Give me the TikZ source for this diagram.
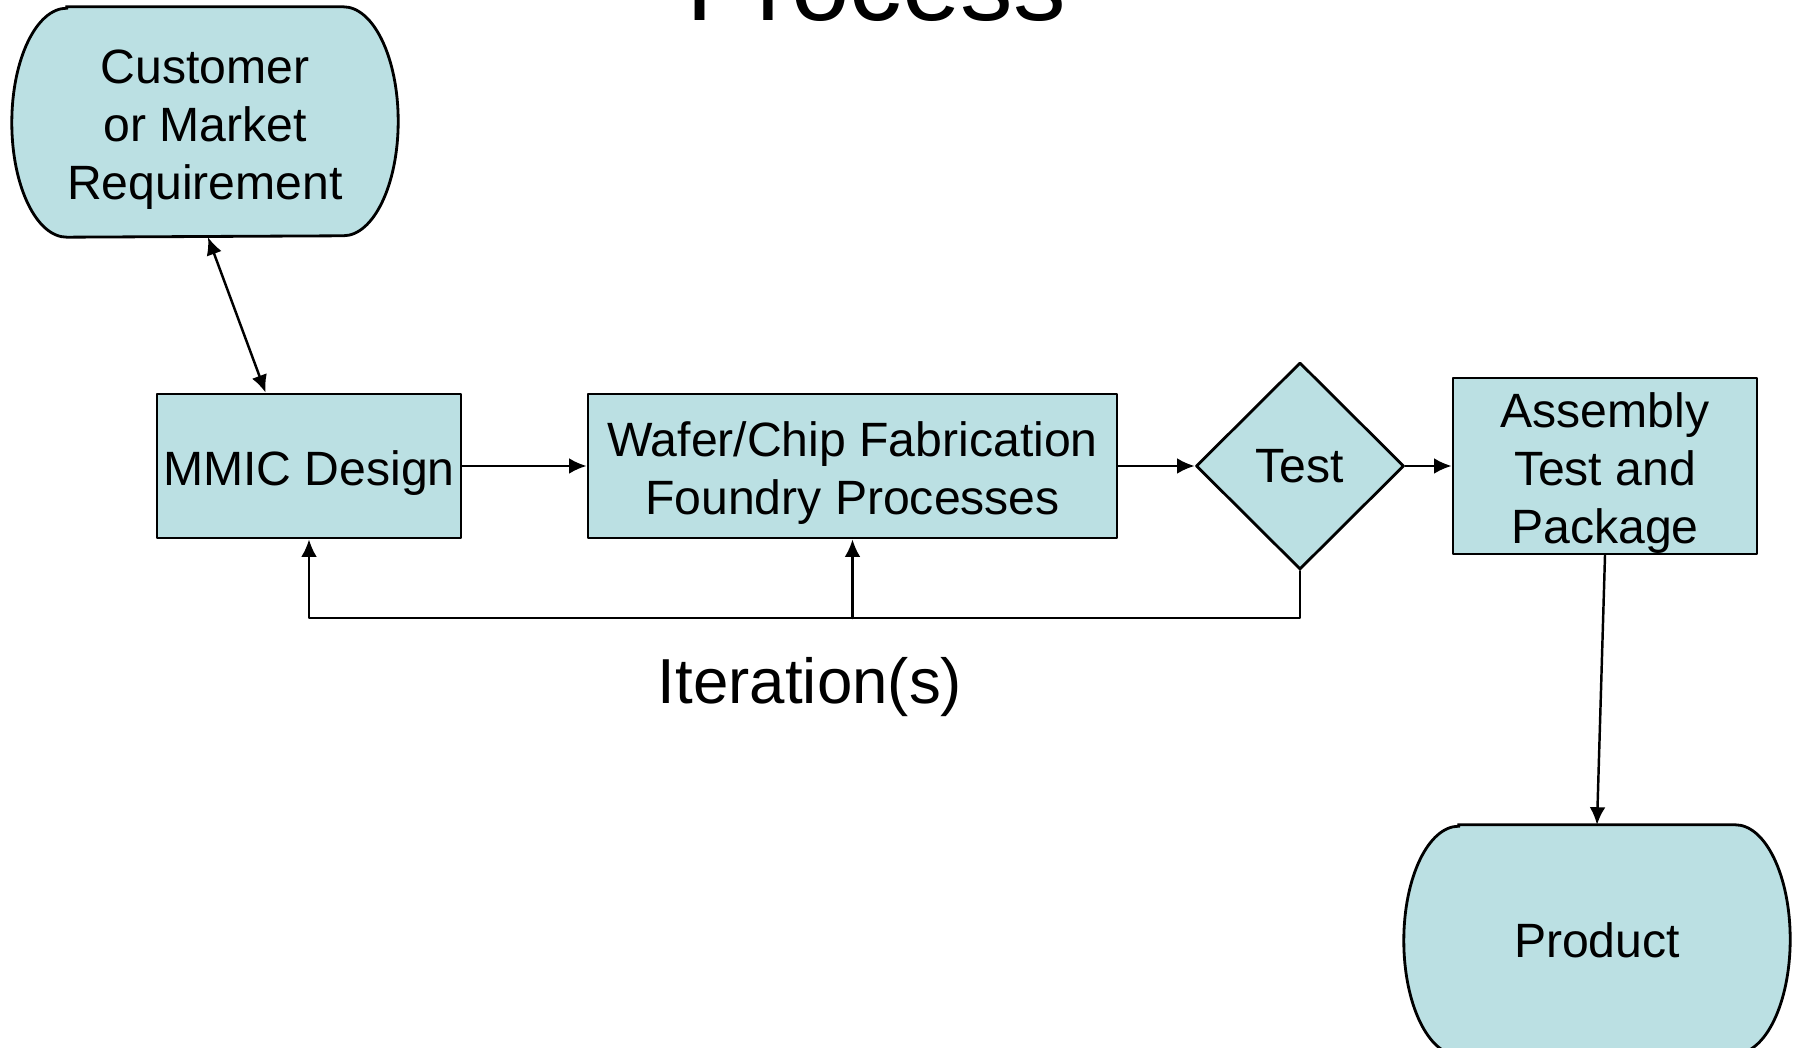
\documentclass[tikz,border=0pt]{standalone}
\usepackage{fontspec}
\setmainfont{Liberation Sans}
\usepackage{tikz}
\usetikzlibrary{arrows.meta}
\usetikzlibrary{shapes.geometric}
\usetikzlibrary{backgrounds}
\definecolor{flowcyan}{RGB}{187,224,227}
% taller first line, so text with descenders sits centred
\newcommand{\tallline}{\rule{0pt}{1em}}

\tikzset{
  stepbox/.style={draw=black,line width=0.8pt,fill=flowcyan,inner sep=0pt,align=center,
    font=\fontsize{13.7}{16.5}\selectfont},
  decide/.style={stepbox,diamond,minimum width=2.08cm,minimum height=2.07cm},
  endtext/.style={inner sep=0pt,minimum width=3.85cm,minimum height=2.29cm,align=center,
    font=\fontsize{13.7}{16.5}\selectfont},
  endline/.style={draw=black,line width=0.8pt,fill=flowcyan},
  link/.style={line width=0.7pt,-{Latex[length=5pt,width=4.5pt]}}
}

\begin{document}
\begin{tikzpicture}[line cap=round,line join=round,x=1cm,y=1cm]
\useasboundingbox (0,0) rectangle (17.98,10.48);
% title, mostly above the page
\node[anchor=base,font=\fontsize{29.9}{36}\selectfont] (title) at (8.76,10.274) {Process};
% main row
\node[stepbox,minimum width=3.04cm,minimum height=1.44cm] (mmic) at (3.09,5.82) {\tallline MMIC Design};
\node[stepbox,minimum width=5.29cm,minimum height=1.44cm] (wafer) at (8.525,5.82) {\tallline Wafer/Chip Fabrication\\Foundry Processes};
\node[decide] (test) at (13.00,5.82) {Test};
\node[stepbox,minimum width=3.04cm,minimum height=1.76cm] (asm) at (16.05,5.82) {\tallline Assembly\\Test and\\Package};
% start and end
\node[endtext] (cust) at (2.05,9.26) {\tallline Customer\\or Market\\Requirement};
\node[endtext] (prod) at (15.97,1.08) {Product};
\begin{scope}[on background layer]
\foreach \n in {cust,prod}
  \draw[endline] ([xshift=0.55cm]\n.north west) -- ([xshift=-0.55cm]\n.north east)
    arc[start angle=90,end angle=-90,x radius=0.55,y radius=1.145]
    -- ([xshift=0.55cm]\n.south west)
    arc[start angle=270,end angle=90,x radius=0.55,y radius=1.145] -- cycle;
\end{scope}
% connectors
\draw[link,{Latex[length=5pt,width=4.5pt]}-{Latex[length=5pt,width=4.5pt]}] ([xshift=0.03cm]cust.south) -- ([xshift=1.1cm]mmic.north west);
\draw[link] (mmic.east) -- (wafer.west);
\draw[link] (wafer.east) -- (test.west);
\draw[link] (test.east) -- (asm.west);
\draw[link] (asm.south) -- (prod.north);
% feedback loop
\coordinate (ret) at (13.00,4.30);
\draw[link] (test.south) -- (ret) -| (mmic.south);
\draw[link] (wafer.south |- ret) -- (wafer.south);
\node[anchor=base,font=\fontsize{18.1}{22}\selectfont] (iter) at (8.10,3.445) {Iteration(s)};
\end{tikzpicture}
\end{document}
